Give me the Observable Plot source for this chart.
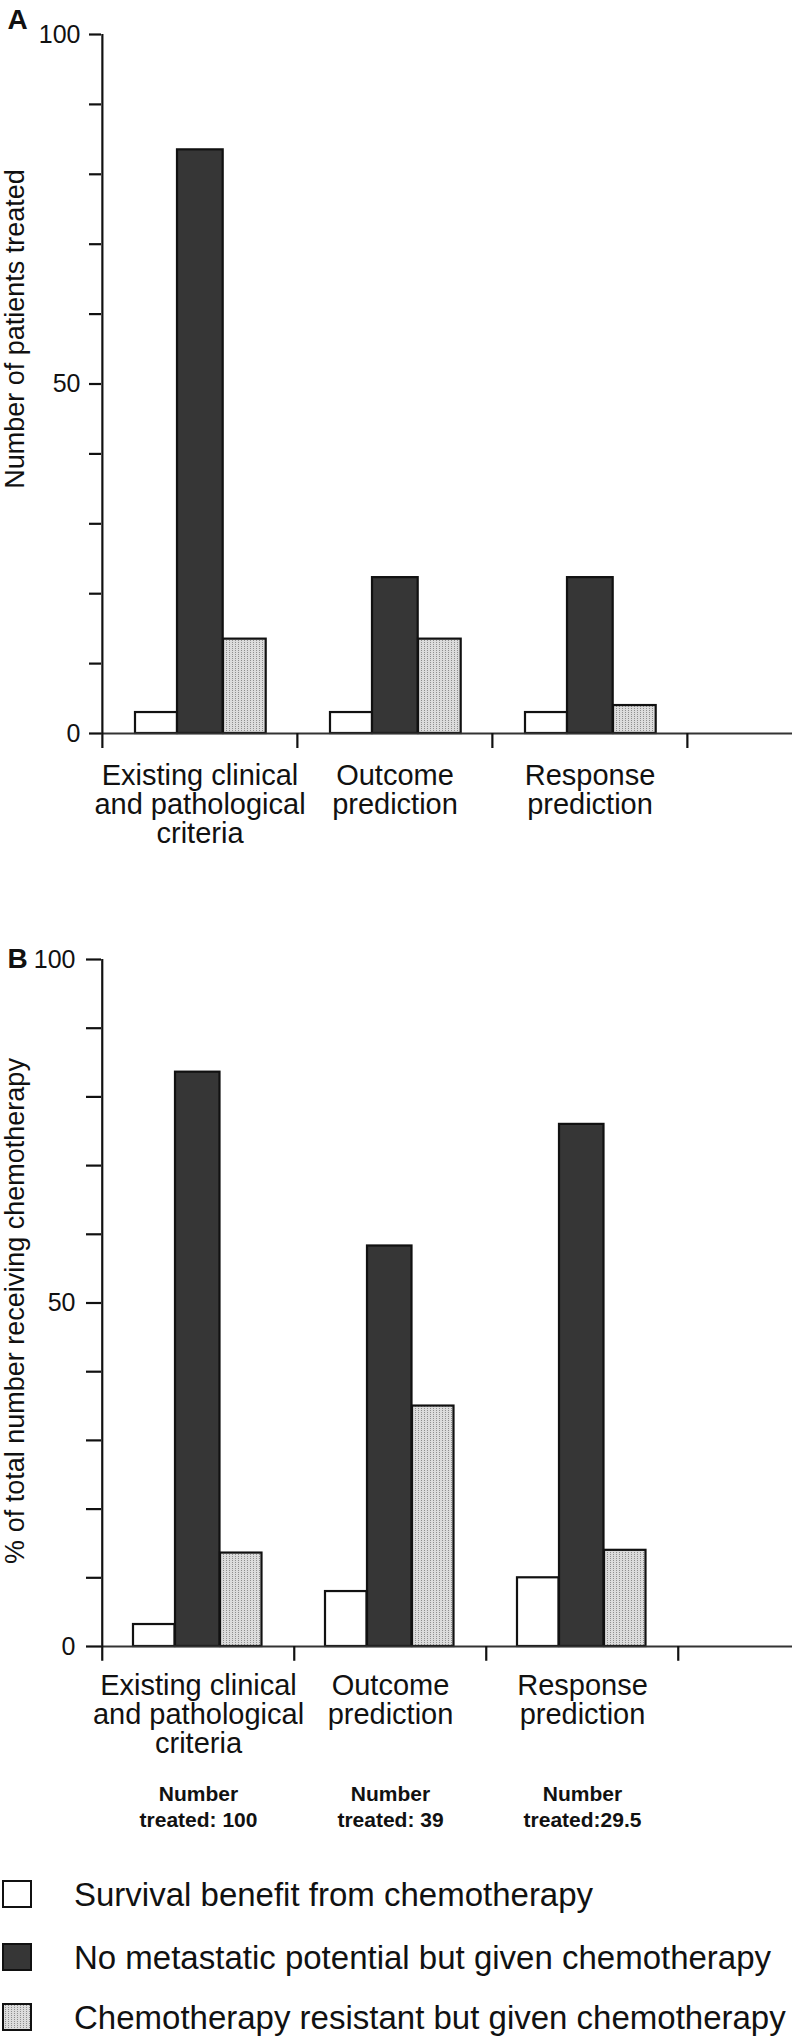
<!DOCTYPE html>
<html>
<head>
<meta charset="utf-8">
<script src="https://cdn.jsdelivr.net/npm/d3@7"></script>
<script src="https://cdn.jsdelivr.net/npm/@observablehq/plot@0.6"></script>
<style>
  html, body { margin: 0; padding: 0; background: #fff; }
  body { width: 792px; font-family: "Liberation Sans", Arial, sans-serif; color: #111; }
  svg { display: block; }
  #legend { position: relative; width: 792px; height: 160px; }
  .lg-box { position: absolute; left: 2px; width: 26px; height: 24px; border: 2px solid #111; }
  .lg-text { position: absolute; left: 74px; font-size: 33px; line-height: 33px; white-space: nowrap; }
</style>
</head>
<body>
<svg width="0" height="0" style="position:absolute">
  <defs>
    <pattern id="stipple" width="3" height="2" patternUnits="userSpaceOnUse">
      <rect width="3" height="2" fill="#dcdcdc"></rect>
      <rect x="1" y="0" width="1" height="1" fill="#8f8f8f"></rect>
    </pattern>
  </defs>
</svg>
<div id="panelA"></div>
<div id="panelB"></div>
<div id="legend"></div>
<script>
// ---------------- data ----------------
const categories = ["Existing clinical and pathological criteria", "Outcome prediction", "Response prediction", ""];
const categoryLabels = ["Existing clinical\nand pathological\ncriteria", "Outcome\nprediction", "Response\nprediction", ""];
const series = [
  "Survival benefit from chemotherapy",
  "No metastatic potential but given chemotherapy",
  "Chemotherapy resistant but given chemotherapy"
];
// Panel A: number of patients treated
const panelASurvival     = [3, 3, 3];
const panelANoMetastatic = [83.5, 22.3, 22.3];
const panelAResistant    = [13.5, 13.5, 4];
// Panel B: % of total number receiving chemotherapy
const panelBSurvival     = [3.2, 8, 10];
const panelBNoMetastatic = [83.6, 58.3, 76];
const panelBResistant    = [13.6, 35, 14];
const numberTreated = ["Number\ntreated: 100", "Number\ntreated: 39", "Number\ntreated:29.5"];
const yTicks = [0, 10, 20, 30, 40, 50, 60, 70, 80, 90, 100];
const yTickLabels = [0, 50, 100];
const titleA = "Number of patients treated";
const titleB = "% of total number receiving chemotherapy";

// ---------------- styles ----------------
const fills = ["white", "#363636", "url(#stipple)"];
const FONT = "Liberation Sans, Arial, sans-serif";

function rows(valuesBySeries) {
  return series.flatMap((s, si) =>
    categories.slice(0, 3).map((c, ci) => ({category: c, series: s, value: valuesBySeries[si][ci]}))
  );
}

function panel(opts) {
  const {values, height, marginTop, marginBottom, range, insets, tickSize, tickPadding,
         labelPadding, letter, letterDy, title, titleSize, titleDy, extra = []} = opts;
  const data = rows(values);
  const bw = (range[1] - range[0]) / categories.length;
  const bars = series.map((s, i) => Plot.barY(data.filter(d => d.series === s), {
    x: "category", y: "value", fill: fills[i], stroke: "#111", strokeWidth: 2.2,
    insetLeft: insets[i][0], insetRight: insets[i][1]
  }));
  return Plot.plot({
    width: 792, height, marginTop, marginBottom, marginLeft: 101, marginRight: 0,
    style: {fontFamily: FONT, color: "#111", background: "white", overflow: "visible"},
    x: {domain: categories, range, padding: 0, axis: null, label: null},
    y: {domain: [0, 100], axis: null, label: null},
    marks: [
      ...bars,
      Plot.ruleY([0], {stroke: "#333", strokeWidth: 2}),
      Plot.axisY({ticks: yTicks, tickSize, tickPadding, strokeWidth: 2.2, fontSize: 25, label: null,
                  tickFormat: d => yTickLabels.includes(d) ? String(d) : ""}),
      Plot.axisX({ticks: categories, tickSize: 0, tickPadding: labelPadding, fontSize: 29, lineHeight: 1.0,
                  label: null, tickFormat: d => categoryLabels[categories.indexOf(d)]}),
      Plot.ruleX([categories[0]], {y1: -2.15, y2: 100, dx: -bw / 2, stroke: "#111", strokeWidth: 2.2}),
      Plot.ruleX(categories.slice(1), {x: d => d, y1: 0, y2: -2.15, dx: -bw / 2, stroke: "#111", strokeWidth: 2.2}),
      Plot.text([letter], {frameAnchor: "top-left", dx: -94, dy: letterDy, lineAnchor: "bottom",
                           textAnchor: "start", fontSize: 28, fontWeight: "bold"}),
      Plot.text([title], {frameAnchor: "left", textAnchor: "middle", lineAnchor: "middle", rotate: -90,
                          dx: -86, dy: titleDy, fontSize: titleSize}),
      ...extra
    ]
  });
}

const svgA = panel({
  values: [panelASurvival, panelANoMetastatic, panelAResistant],
  height: 880, marginTop: 34, marginBottom: 147,
  range: [101, 882],
  insets: [[33, 120], [75, 74.3], [121, 31.3]],
  tickSize: 12, tickPadding: 9, labelPadding: 31,
  letter: "A", letterDy: -6,
  title: titleA, titleSize: 27, titleDy: -55
});
document.getElementById("panelA").appendChild(svgA);

const treatedRows = categories.slice(0, 3).map((c, i) => ({category: c, label: numberTreated[i]}));
const svgB = panel({
  values: [panelBSurvival, panelBNoMetastatic, panelBResistant],
  height: 1000, marginTop: 79, marginBottom: 234,
  range: [101, 871],
  insets: [[31, 119.5], [73, 74.5], [118, 32.5]],
  tickSize: 15, tickPadding: 11, labelPadding: 28,
  letter: "B", letterDy: 8,
  title: titleB, titleSize: 27, titleDy: 8,
  extra: [
    Plot.text(treatedRows, {x: "category", y: 0, text: "label", lineAnchor: "top", dy: 136,
                            fontSize: 21, fontWeight: "bold", lineHeight: 1.24})
  ]
});
document.getElementById("panelB").appendChild(svgB);

// ---------------- legend ----------------
const legend = d3.select("#legend");
const boxTops = [0, 63, 123];
series.forEach((s, i) => {
  const box = legend.append("div").attr("class", "lg-box")
    .style("top", boxTops[i] + "px")
    .style("background", i === 0 ? "white" : (i === 1 ? "#363636" : "none"));
  if (i === 2) {
    box.append("svg").attr("width", 26).attr("height", 24).style("display", "block")
      .append("rect").attr("width", 26).attr("height", 24).attr("fill", "url(#stipple)");
  }
  legend.append("div").attr("class", "lg-text")
    .style("top", (boxTops[i] - 2) + "px")
    .text(s);
});
</script>
</body>
</html>
